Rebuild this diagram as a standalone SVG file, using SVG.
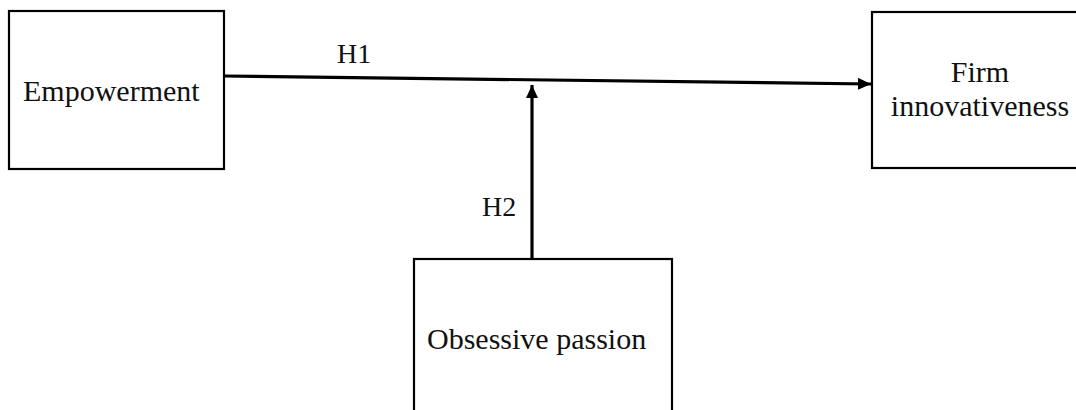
<svg xmlns="http://www.w3.org/2000/svg" width="1076" height="410" viewBox="0 0 1076 410">
  <style>
    .box { fill: #ffffff; stroke: #000000; stroke-width: 2.2; }
    .label { font-family: "Liberation Serif", "Times New Roman", serif; font-size: 30px; fill: #111111; }
    .hyp { font-family: "Liberation Serif", "Times New Roman", serif; font-size: 28px; fill: #111111; }
    .link { stroke: #000000; stroke-width: 3.2; fill: none; }
  </style>
  <defs>
    <marker id="arrow" markerUnits="userSpaceOnUse" markerWidth="14" markerHeight="12" refX="13" refY="6" orient="auto">
      <path d="M0,0 L13,6 L0,12 Z" fill="#000000"/>
    </marker>
  </defs>
  <rect width="1076" height="410" fill="#ffffff"/>

  <g id="empowerment">
    <rect class="box" x="9" y="11" width="215" height="158"/>
    <text class="label" x="23" y="101">Empowerment</text>
  </g>

  <g id="firm-innovativeness">
    <rect class="box" x="872" y="12" width="220" height="156"/>
    <text class="label" x="980" y="82" text-anchor="middle">Firm</text>
    <text class="label" x="980" y="116" text-anchor="middle">innovativeness</text>
  </g>

  <g id="obsessive-passion">
    <rect class="box" x="414" y="259" width="258" height="170"/>
    <text class="label" x="427" y="349">Obsessive passion</text>
  </g>

  <g id="connectors">
    <line class="link" x1="224" y1="76" x2="871" y2="84" marker-end="url(#arrow)"/>
    <line class="link" x1="532" y1="259" x2="532" y2="85" marker-end="url(#arrow)"/>
    <text class="hyp" x="337" y="63">H1</text>
    <text class="hyp" x="482" y="216">H2</text>
  </g>
</svg>
